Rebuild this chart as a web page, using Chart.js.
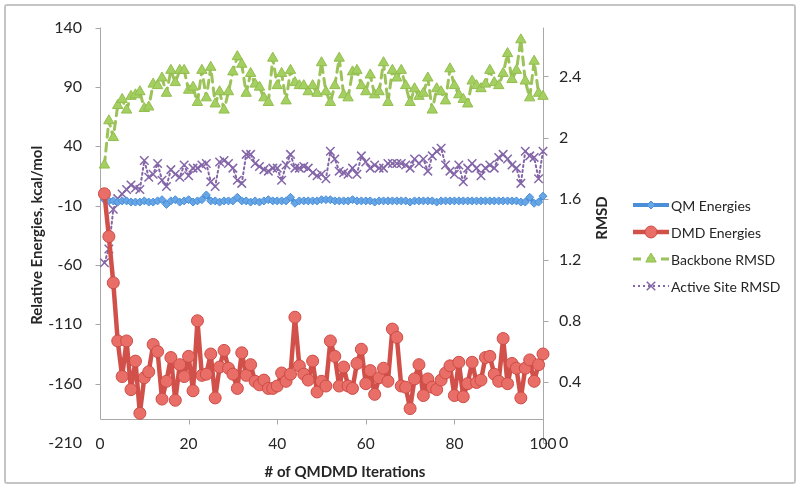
<!DOCTYPE html>
<html>
<head>
<meta charset="utf-8">
<script src="https://cdn.jsdelivr.net/npm/chart.js@4.4.3/dist/chart.umd.min.js"></script>
<style>
  html, body { margin: 0; padding: 0; background: #fff; }
  #wrap { position: relative; width: 800px; height: 491px; }
  #frame { position: absolute; left: 4px; top: 4px; width: 788px; height: 476px;
           border: 2px solid #c4c4c4; border-radius: 3px; pointer-events: none; }
</style>
</head>
<body>
<div id="wrap">
  <canvas id="qmdmd-chart" width="800" height="491"></canvas>
  <div id="frame"></div>
</div>
<script>
// iteration numbers (x)
const iterations = [
  1, 2, 3, 4, 5, 6, 7, 8, 9, 10, 11, 12, 13, 14, 15, 16, 17, 18, 19, 20,
  21, 22, 23, 24, 25, 26, 27, 28, 29, 30, 31, 32, 33, 34, 35, 36, 37, 38, 39, 40,
  41, 42, 43, 44, 45, 46, 47, 48, 49, 50, 51, 52, 53, 54, 55, 56, 57, 58, 59, 60,
  61, 62, 63, 64, 65, 66, 67, 68, 69, 70, 71, 72, 73, 74, 75, 76, 77, 78, 79, 80,
  81, 82, 83, 84, 85, 86, 87, 88, 89, 90, 91, 92, 93, 94, 95, 96, 97, 98, 99, 100
];

// relative energies, kcal/mol (left axis)
const qmEnergies = [
  -5, -6, -6, -7, -6, -6, -7, -7, -7, -6, -7, -7, -6, -5, -9, -6, -5, -7, -6, -5,
  -7, -6, -5, -1, -6, -6, -7, -6, -6, -6, -3, -6, -6, -7, -6, -7, -6, -5, -6, -6,
  -6, -6, -3, -8, -6, -6, -6, -6, -6, -5, -5, -5, -6, -6, -6, -6, -5, -6, -6, -6,
  -6, -7, -6, -6, -6, -6, -6, -6, -6, -7, -6, -6, -6, -6, -6, -7, -6, -6, -6, -6,
  -6, -6, -6, -6, -6, -6, -6, -6, -6, -6, -6, -6, -6, -6, -7, -7, -3, -8, -7, -2
];
const dmdEnergies = [
  0, -36, -75, -124, -154, -124, -165, -141, -185, -155, -150, -127, -133, -173, -158, -138, -174, -144, -154, -137,
  -166, -107, -153, -152, -135, -172, -146, -132, -147, -152, -164, -134, -153, -144, -158, -161, -157, -164, -164, -162,
  -151, -158, -152, -104, -145, -152, -157, -141, -167, -158, -162, -124, -137, -162, -146, -162, -164, -143, -131, -160,
  -149, -169, -155, -147, -158, -114, -121, -162, -163, -181, -156, -144, -170, -156, -163, -165, -157, -151, -145, -170,
  -142, -171, -160, -142, -159, -157, -138, -137, -152, -158, -122, -160, -143, -147, -172, -147, -140, -158, -144, -135
];

// RMSD (right axis)
const backboneRmsd = [
  1.82, 2.11, 2.00, 2.21, 2.25, 2.18, 2.27, 2.28, 2.30, 2.19, 2.20, 2.35, 2.34, 2.39, 2.29, 2.44, 2.36, 2.44, 2.44, 2.31,
  2.33, 2.23, 2.44, 2.26, 2.46, 2.22, 2.30, 2.18, 2.30, 2.43, 2.53, 2.48, 2.29, 2.42, 2.35, 2.33, 2.26, 2.23, 2.52, 2.34,
  2.42, 2.24, 2.44, 2.36, 2.34, 2.34, 2.30, 2.34, 2.29, 2.49, 2.30, 2.23, 2.34, 2.52, 2.28, 2.26, 2.43, 2.44, 2.34, 2.30,
  2.41, 2.28, 2.30, 2.49, 2.23, 2.44, 2.39, 2.44, 2.34, 2.23, 2.32, 2.27, 2.29, 2.39, 2.18, 2.32, 2.30, 2.24, 2.45, 2.34,
  2.28, 2.25, 2.22, 2.37, 2.34, 2.32, 2.35, 2.44, 2.36, 2.34, 2.42, 2.55, 2.38, 2.44, 2.64, 2.37, 2.26, 2.50, 2.29, 2.27
];
const activeSiteRmsd = [
  1.18, 1.27, 1.53, 1.60, 1.63, 1.66, 1.69, 1.67, 1.66, 1.85, 1.74, 1.76, 1.83, 1.72, 1.68, 1.79, 1.76, 1.74, 1.82, 1.75,
  1.80, 1.80, 1.82, 1.83, 1.71, 1.68, 1.84, 1.85, 1.83, 1.80, 1.72, 1.70, 1.89, 1.89, 1.83, 1.81, 1.79, 1.78, 1.80, 1.80,
  1.72, 1.82, 1.89, 1.80, 1.80, 1.81, 1.80, 1.77, 1.75, 1.76, 1.73, 1.91, 1.86, 1.78, 1.77, 1.76, 1.80, 1.76, 1.88, 1.84,
  1.80, 1.82, 1.80, 1.80, 1.83, 1.83, 1.83, 1.83, 1.82, 1.80, 1.86, 1.83, 1.86, 1.78, 1.88, 1.91, 1.93, 1.82, 1.78, 1.76,
  1.82, 1.71, 1.80, 1.83, 1.80, 1.75, 1.80, 1.82, 1.80, 1.87, 1.89, 1.86, 1.82, 1.80, 1.70, 1.91, 1.88, 1.87, 1.73, 1.91
];

// axis setup
const energyTicks = { min: -210, max: 140, step: 50 };
const rmsdTicks = { min: 0, max: 2.72, step: 0.4 };
const iterTicks = { min: 0, max: 100, step: 20 };
const xAxisCrossing = -190; // the category axis crosses the energy axis here

const FONT = "Lato, 'Open Sans', sans-serif";
const TEXT = "#262626";
const AXIS = "#a8a8a8";

// axis lines, tick marks, x tick labels, the right title, x title and the legend
const excelLook = {
  id: "excelLook",
  beforeDatasetsDraw(chart) {
    const { ctx, chartArea: a, scales: { x, y, y1 } } = chart;
    const crossY = Math.round(y.getPixelForValue(xAxisCrossing)) + 0.5;
    const L = Math.round(a.left) + 0.5;
    const R = Math.round(a.right) + 0.5;
    ctx.save();
    ctx.strokeStyle = AXIS;
    ctx.lineWidth = 1;
    ctx.beginPath();
    ctx.moveTo(L, a.top);
    ctx.lineTo(L, crossY);
    y.ticks.forEach(t => {
      const p = Math.round(y.getPixelForValue(t.value)) + 0.5;
      if (p <= crossY) { ctx.moveTo(L - 5, p); ctx.lineTo(L, p); }
    });
    ctx.moveTo(R, a.top);
    ctx.lineTo(R, a.bottom);
    y1.ticks.forEach(t => {
      const p = Math.round(y1.getPixelForValue(t.value)) + 0.5;
      ctx.moveTo(R, p); ctx.lineTo(R + 5, p);
    });
    ctx.moveTo(L, crossY);
    ctx.lineTo(R, crossY);
    x.ticks.forEach(t => {
      if (t.value === 0) return;
      const p = Math.round(x.getPixelForValue(t.value)) + 0.5;
      ctx.moveTo(p, crossY); ctx.lineTo(p, crossY + 5);
    });
    ctx.stroke();

    // x tick labels sit level with the lowest y labels, below the crossing line
    ctx.fillStyle = TEXT;
    ctx.font = "15.5px " + FONT;
    ctx.textAlign = "center";
    ctx.textBaseline = "middle";
    x.ticks.forEach(t => {
      ctx.fillText(String(t.value), x.getPixelForValue(t.value), a.bottom + 1);
    });
    ctx.restore();
  },
  afterDraw(chart) {
    const { ctx } = chart;
    ctx.save();
    ctx.fillStyle = TEXT;
    ctx.font = "bold 15px " + FONT;
    ctx.textAlign = "center";
    ctx.textBaseline = "middle";
    ctx.fillText("# of QMDMD Iterations", 345, 472);
    ctx.save();
    ctx.translate(602, 218);
    ctx.rotate(-Math.PI / 2);
    ctx.fillText("RMSD", 0, 0);
    ctx.restore();

    // legend
    ctx.font = "14px " + FONT;
    ctx.textAlign = "left";
    chart.data.datasets.forEach((ds, k) => {
      const yy = 205 + 27 * k;
      ctx.save();
      ctx.strokeStyle = ds.borderColor;
      ctx.lineWidth = ds.borderWidth;
      ctx.setLineDash(ds.borderDash || []);
      ctx.beginPath();
      ctx.moveTo(633, yy);
      ctx.lineTo(669, yy);
      ctx.stroke();
      ctx.setLineDash([]);
      ctx.fillStyle = ds.pointBackgroundColor;
      ctx.strokeStyle = ds.pointBorderColor;
      ctx.lineWidth = ds.pointBorderWidth;
      Chart.helpers.drawPoint(ctx, { pointStyle: ds.pointStyle, radius: ds.pointRadius, rotation: 0, borderWidth: ds.pointBorderWidth }, 651, yy);
      ctx.restore();
      ctx.fillStyle = TEXT;
      ctx.fillText(ds.label, 671, yy + 1);
    });
    ctx.restore();
  }
};

const ctx = document.getElementById("qmdmd-chart").getContext("2d");
new Chart(ctx, {
  type: "line",
  data: {
    labels: iterations,
    datasets: [
      {
        label: "QM Energies",
        data: qmEnergies,
        yAxisID: "y",
        borderColor: "#4a8fd8",
        borderWidth: 4,
        pointStyle: "rectRot",
        pointRadius: 4,
        pointBackgroundColor: "#66a6e6",
        pointBorderColor: "#4a8fd8",
        pointBorderWidth: 1,
        order: 1,
        clip: false
      },
      {
        label: "DMD Energies",
        data: dmdEnergies,
        yAxisID: "y",
        borderColor: "#d2504a",
        borderWidth: 4.5,
        pointStyle: "circle",
        pointRadius: 6,
        pointBackgroundColor: "#ea6e68",
        pointBorderColor: "#cc4b45",
        pointBorderWidth: 1,
        order: 0,
        clip: false
      },
      {
        label: "Backbone RMSD",
        data: backboneRmsd,
        yAxisID: "y1",
        borderColor: "#9cc25a",
        borderWidth: 3,
        borderDash: [8, 6],
        pointStyle: "triangle",
        pointRadius: 6,
        pointBackgroundColor: "#a4d062",
        pointBorderColor: "#93bd4e",
        pointBorderWidth: 1,
        order: 2,
        clip: false
      },
      {
        label: "Active Site RMSD",
        data: activeSiteRmsd,
        yAxisID: "y1",
        borderColor: "#8466a8",
        borderWidth: 2,
        borderDash: [2, 3],
        pointStyle: "crossRot",
        pointRadius: 6,
        pointBackgroundColor: "#8466a8",
        pointBorderColor: "#8466a8",
        pointBorderWidth: 1.5,
        order: 3,
        clip: false
      }
    ]
  },
  options: {
    responsive: false,
    animation: false,
    devicePixelRatio: 1,
    layout: { padding: { top: 23, left: 0, right: 197, bottom: 0 } },
    elements: { line: { tension: 0, borderJoinStyle: "round", borderCapStyle: "round" } },
    plugins: {
      legend: { display: false },
      tooltip: { enabled: false }
    },
    scales: {
      x: {
        type: "linear",
        min: iterTicks.min,
        max: iterTicks.max,
        grid: { display: false, drawTicks: false },
        border: { display: false },
        ticks: { stepSize: iterTicks.step, display: false },
        afterFit(scale) { scale.height = 48; }
      },
      y: {
        position: "left",
        min: energyTicks.min,
        max: energyTicks.max,
        grid: { display: false, drawTicks: false },
        border: { display: false },
        ticks: {
          stepSize: energyTicks.step,
          padding: 18,
          color: TEXT,
          font: { family: FONT, size: 16 }
        },
        title: {
          display: true,
          text: "Relative Energies, kcal/mol",
          color: TEXT,
          font: { family: FONT, size: 15, weight: "bold" },
          padding: { top: 28, bottom: 0 }
        },
        afterFit(scale) { scale.width = 100; }
      },
      y1: {
        position: "right",
        min: rmsdTicks.min,
        max: rmsdTicks.max,
        grid: { display: false, drawTicks: false },
        border: { display: false },
        ticks: {
          stepSize: rmsdTicks.step,
          includeBounds: false,
          padding: 16,
          color: TEXT,
          font: { family: FONT, size: 16 },
          callback: v => String(+v.toFixed(2))
        },
        afterFit(scale) { scale.width = 60; }
      }
    }
  },
  plugins: [excelLook]
});
</script>
</body>
</html>
